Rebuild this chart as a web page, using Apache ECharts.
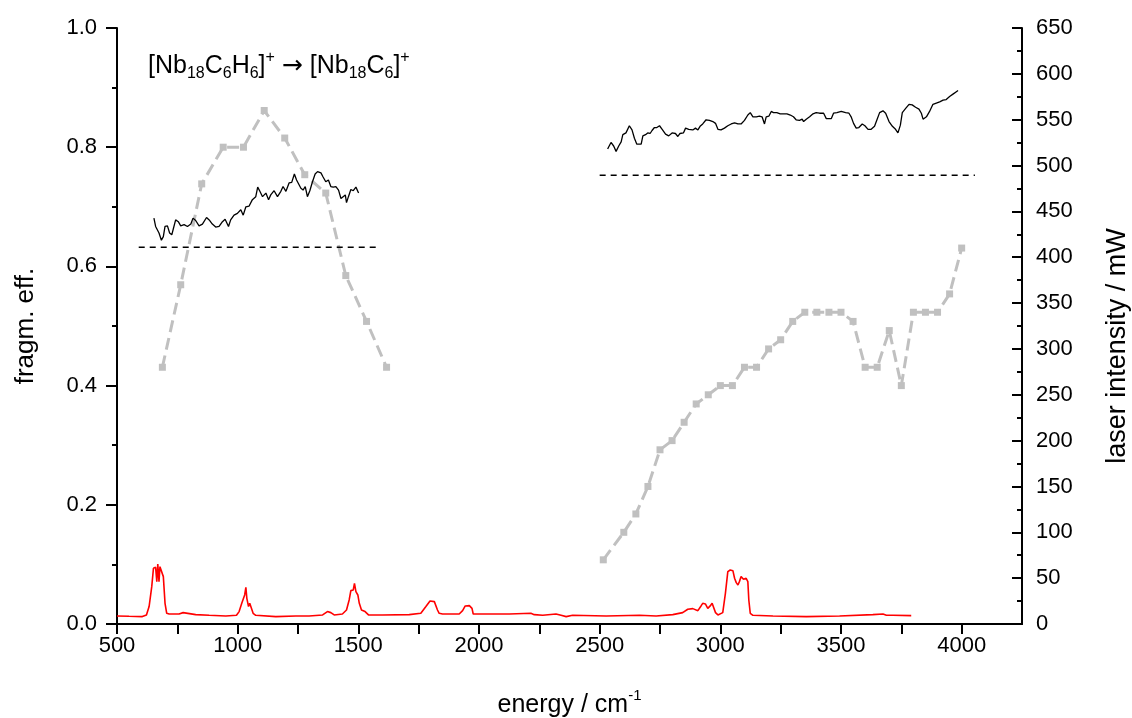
<!DOCTYPE html>
<html>
<head>
<meta charset="utf-8">
<script src="https://cdn.jsdelivr.net/npm/echarts@6/dist/echarts.min.js"></script>
<style>
  html, body { margin: 0; padding: 0; background: #fff; }
  #chart { width: 1132px; height: 718px; }
</style>
</head>
<body>
<div id="chart"></div>
<script>
// tick positions
const xMajorTicks = [500, 1000, 1500, 2000, 2500, 3000, 3500, 4000]
const xMinorTicks = [750, 1250, 1750, 2250, 2750, 3250, 3750]
const xTopTicks = [750, 1000, 1250, 1500, 1750, 2000, 2250, 2500, 2750, 3000, 3250, 3500, 3750, 4000]

// IR spectrum (red, left axis)
const irSpectrum = [
  [500, 0.0135], [550, 0.0129], [605, 0.0124], [622, 0.0152], [633, 0.0292], [644, 0.0627],
  [651, 0.0934], [660, 0.0951], [665, 0.0711], [669, 0.1007], [674, 0.0711], [678, 0.0962],
  [685, 0.0962], [692, 0.0795], [699, 0.0347], [706, 0.018], [716, 0.0168], [757, 0.0168],
  [774, 0.0191], [778, 0.0224], [782, 0.018], [826, 0.0157], [882, 0.0146], [951, 0.0135],
  [995, 0.0146], [1006, 0.0208], [1017, 0.0347], [1024, 0.0358], [1029, 0.0487], [1034, 0.0616],
  [1038, 0.0431], [1045, 0.0292], [1050, 0.0347], [1057, 0.0263], [1064, 0.018], [1075, 0.0146],
  [1158, 0.0124], [1241, 0.0135], [1296, 0.0135], [1352, 0.0152], [1372, 0.0208], [1386, 0.0191],
  [1400, 0.0152], [1434, 0.0168], [1451, 0.0235], [1462, 0.0403], [1469, 0.056], [1479, 0.0571],
  [1484, 0.0683], [1490, 0.0543], [1498, 0.0487], [1504, 0.0347], [1513, 0.0235], [1528, 0.0208],
  [1542, 0.0152], [1600, 0.0152], [1711, 0.0157], [1759, 0.018], [1780, 0.0292], [1797, 0.0386],
  [1815, 0.0375], [1828, 0.0235], [1835, 0.018], [1849, 0.0168], [1918, 0.0168], [1932, 0.0224],
  [1943, 0.0303], [1960, 0.0308], [1971, 0.0263], [1976, 0.0168], [2001, 0.0168], [2126, 0.0168],
  [2215, 0.018], [2229, 0.0157], [2264, 0.0146], [2319, 0.0168], [2340, 0.0146], [2361, 0.0124],
  [2388, 0.0146], [2527, 0.0135], [2665, 0.0146], [2734, 0.0135], [2803, 0.0157], [2844, 0.0191],
  [2865, 0.0247], [2886, 0.0258], [2907, 0.0224], [2920, 0.0303], [2927, 0.0347], [2938, 0.0336],
  [2948, 0.0263], [2958, 0.0303], [2966, 0.0347], [2972, 0.0319], [2980, 0.0191], [2990, 0.0152],
  [3010, 0.0191], [3021, 0.0515], [3031, 0.0878], [3041, 0.0906], [3052, 0.0895], [3059, 0.0767],
  [3066, 0.0694], [3073, 0.0655], [3079, 0.0711], [3086, 0.0795], [3096, 0.075], [3107, 0.0767],
  [3114, 0.0711], [3118, 0.0403], [3124, 0.018], [3135, 0.0146], [3218, 0.0135], [3356, 0.0124],
  [3494, 0.0135], [3632, 0.0157], [3674, 0.0168], [3688, 0.0146], [3715, 0.0146], [3791, 0.0141]
]

// fragmentation efficiency traces (black, left axis)
const fragLow = [
  [653, 0.681], [660, 0.667], [674, 0.656], [684, 0.644], [692, 0.65], [699, 0.667], [709, 0.668],
  [718, 0.656], [727, 0.653], [734, 0.664], [743, 0.678], [754, 0.675], [764, 0.668], [778, 0.67],
  [792, 0.667], [806, 0.671], [815, 0.681], [826, 0.677], [840, 0.668], [854, 0.671], [871, 0.682],
  [882, 0.678], [895, 0.671], [909, 0.666], [923, 0.667], [937, 0.675], [948, 0.679], [962, 0.667],
  [971, 0.678], [985, 0.686], [999, 0.689], [1013, 0.695], [1023, 0.686], [1034, 0.7], [1047, 0.701],
  [1061, 0.712], [1075, 0.717], [1083, 0.733], [1092, 0.726], [1103, 0.717], [1117, 0.723],
  [1128, 0.712], [1137, 0.72], [1151, 0.727], [1165, 0.717], [1179, 0.726], [1188, 0.734],
  [1200, 0.726], [1213, 0.74], [1224, 0.741], [1235, 0.755], [1244, 0.745], [1252, 0.742],
  [1262, 0.731], [1271, 0.728], [1280, 0.734], [1289, 0.717], [1299, 0.727], [1310, 0.742],
  [1321, 0.755], [1331, 0.759], [1345, 0.757], [1354, 0.75], [1365, 0.742], [1376, 0.745],
  [1386, 0.734], [1396, 0.733], [1407, 0.734], [1418, 0.728], [1428, 0.714], [1437, 0.717],
  [1446, 0.72], [1451, 0.707], [1459, 0.717], [1469, 0.729], [1479, 0.727], [1490, 0.733], [1501, 0.723]
]
const fragHigh = [
  [2533, 0.797], [2547, 0.808], [2558, 0.802], [2568, 0.793], [2579, 0.802], [2589, 0.809],
  [2596, 0.821], [2609, 0.824], [2623, 0.836], [2634, 0.829], [2644, 0.815], [2654, 0.805],
  [2662, 0.808], [2672, 0.805], [2679, 0.819], [2690, 0.821], [2699, 0.824], [2709, 0.823],
  [2717, 0.828], [2727, 0.833], [2737, 0.833], [2748, 0.836], [2759, 0.83], [2773, 0.822],
  [2786, 0.819], [2800, 0.824], [2814, 0.823], [2824, 0.818], [2833, 0.823], [2847, 0.824],
  [2856, 0.832], [2869, 0.83], [2886, 0.829], [2897, 0.832], [2907, 0.829], [2916, 0.835],
  [2927, 0.839], [2941, 0.846], [2955, 0.845], [2969, 0.843], [2980, 0.84], [2990, 0.83],
  [3003, 0.829], [3017, 0.832], [3031, 0.836], [3045, 0.839], [3059, 0.841], [3073, 0.839],
  [3086, 0.839], [3100, 0.845], [3114, 0.854], [3124, 0.858], [3135, 0.851], [3149, 0.851],
  [3162, 0.852], [3173, 0.851], [3183, 0.839], [3190, 0.851], [3201, 0.852], [3211, 0.86],
  [3220, 0.858], [3234, 0.858], [3248, 0.856], [3262, 0.856], [3276, 0.856], [3290, 0.854],
  [3303, 0.851], [3314, 0.846], [3328, 0.845], [3339, 0.847], [3345, 0.843], [3356, 0.847],
  [3370, 0.851], [3384, 0.856], [3397, 0.858], [3411, 0.857], [3428, 0.857], [3439, 0.848],
  [3460, 0.848], [3469, 0.857], [3483, 0.858], [3501, 0.86], [3519, 0.858], [3533, 0.857],
  [3542, 0.851], [3552, 0.84], [3563, 0.832], [3574, 0.833], [3588, 0.839], [3599, 0.836],
  [3612, 0.83], [3625, 0.83], [3639, 0.835], [3649, 0.846], [3660, 0.858], [3674, 0.861],
  [3685, 0.857], [3699, 0.843], [3713, 0.835], [3726, 0.83], [3736, 0.824], [3746, 0.837],
  [3754, 0.858], [3768, 0.865], [3782, 0.872], [3795, 0.871], [3809, 0.867], [3823, 0.864],
  [3833, 0.857], [3840, 0.847], [3854, 0.851], [3867, 0.86], [3881, 0.872], [3895, 0.874],
  [3909, 0.876], [3923, 0.879], [3936, 0.88], [3950, 0.885], [3964, 0.889], [3978, 0.893], [3985, 0.895]
]

// baselines (dashed, left axis)
const baseLow = [[590, 0.632], [1580, 0.632]]
const baseHigh = [[2500, 0.753], [4055, 0.753]]

// laser intensity in mW (grey, right axis)
const laserLow = [
  [688, 280], [764, 370], [851, 480], [940, 520], [1024, 520], [1110, 560],
  [1195, 530], [1278, 490], [1365, 470], [1448, 380], [1534, 330], [1617, 280]
]
const laserHigh = [
  [2515, 70], [2600, 100], [2650, 120], [2700, 150], [2750, 190], [2800, 200], [2850, 220],
  [2900, 240], [2950, 250], [3000, 260], [3050, 260], [3100, 280], [3150, 280], [3200, 300],
  [3250, 310], [3300, 330], [3350, 340], [3400, 340], [3450, 340], [3500, 340], [3550, 330],
  [3600, 280], [3650, 280], [3700, 320], [3750, 260], [3800, 340], [3850, 340], [3900, 340],
  [3950, 360], [4000, 410]
]

const FONT = 'Liberation Sans, Arial, sans-serif'
const gridBox = { left: 117, right: 110, top: 28, bottom: 94, outerBoundsMode: 'none' }

const chart = echarts.init(document.getElementById('chart'))

const laserStyle = {
  type: 'line',
  xAxisIndex: 0,
  yAxisIndex: 1,
  symbol: 'rect',
  symbolSize: 7,
  itemStyle: { color: '#c0c0c0' },
  lineStyle: { color: '#c0c0c0', width: 3, type: [12, 6] },
  z: 1
}

const blackTrace = {
  type: 'line',
  xAxisIndex: 0,
  yAxisIndex: 0,
  showSymbol: false,
  lineStyle: { color: '#000', width: 1.3 },
  z: 3
}

const dashed = {
  type: 'line',
  xAxisIndex: 0,
  yAxisIndex: 0,
  showSymbol: false,
  lineStyle: { color: '#000', width: 1.5, type: [6, 5] },
  z: 3
}

chart.setOption({
  animation: false,
  backgroundColor: '#fff',
  textStyle: { fontFamily: FONT },
  grid: [gridBox, gridBox],
  xAxis: [
    {
      gridIndex: 0,
      type: 'value',
      position: 'bottom',
      min: 500,
      max: 4250,
      axisLine: { lineStyle: { color: '#000', width: 2 } },
      axisTick: { customValues: xMajorTicks, length: 10, lineStyle: { color: '#000', width: 2 } },
      axisLabel: { customValues: xMajorTicks, color: '#000', fontSize: 22, margin: 11, formatter: v => String(v) },
      splitLine: { show: false },
      name: '{a|energy / cm}{s|-1}',
      nameLocation: 'middle',
      nameGap: 64,
      nameTextStyle: {
        rich: {
          a: { fontSize: 25, color: '#000', lineHeight: 30, verticalAlign: 'bottom' },
          s: { fontSize: 15, color: '#000', lineHeight: 20, verticalAlign: 'top' }
        }
      }
    },
    {
      gridIndex: 0,
      type: 'value',
      position: 'top',
      min: 500,
      max: 4250,
      axisLine: { lineStyle: { color: '#000', width: 2 } },
      axisTick: { inside: true, customValues: xTopTicks, length: 10, lineStyle: { color: '#000', width: 2 } },
      axisLabel: { show: false },
      splitLine: { show: false }
    },
    {
      gridIndex: 1,
      type: 'value',
      position: 'bottom',
      min: 500,
      max: 4250,
      axisLine: { show: false },
      axisTick: { customValues: xMinorTicks, length: 5, lineStyle: { color: '#000', width: 2 } },
      axisLabel: { show: false },
      splitLine: { show: false }
    }
  ],
  yAxis: [
    {
      gridIndex: 0,
      type: 'value',
      position: 'left',
      min: 0,
      max: 1,
      interval: 0.2,
      axisLine: { show: true, lineStyle: { color: '#000', width: 2 } },
      axisTick: { show: true, length: 11, lineStyle: { color: '#000', width: 2 } },
      minorTick: { show: true, splitNumber: 2, length: 5, lineStyle: { color: '#000', width: 2 } },
      axisLabel: { color: '#000', fontSize: 22, margin: 20, formatter: v => v.toFixed(1) },
      splitLine: { show: false },
      name: 'fragm. eff.',
      nameLocation: 'middle',
      nameGap: 78,
      nameTextStyle: { color: '#000', fontSize: 26 }
    },
    {
      gridIndex: 0,
      type: 'value',
      position: 'right',
      min: 0,
      max: 650,
      interval: 50,
      axisLine: { show: true, lineStyle: { color: '#000', width: 2 } },
      axisTick: { show: true, inside: true, length: 10, lineStyle: { color: '#000', width: 2 } },
      minorTick: { show: true, splitNumber: 2, length: 5, lineStyle: { color: '#000', width: 2 } },
      axisLabel: { color: '#000', fontSize: 22, margin: 14 },
      splitLine: { show: false },
      name: 'laser intensity / mW',
      nameLocation: 'middle',
      nameRotate: 90,
      nameGap: 82,
      nameTextStyle: { color: '#000', fontSize: 27, padding: [0, 40, 0, 0] }
    },
    {
      gridIndex: 1,
      type: 'value',
      min: 0,
      max: 1,
      show: false
    }
  ],
  graphic: [
    {
      type: 'text',
      left: 148,
      top: 50,
      style: {
        text: '{m|[Nb}{b|18}{m|C}{b|6}{m|H}{b|6}{m|]}{p|+}{m| }{ar|\u2192}{m| [Nb}{b|18}{m|C}{b|6}{m|]}{p|+}',
        rich: {
          m: { fontSize: 25, fontFamily: FONT, fill: '#000', lineHeight: 32 },
          ar: { fontSize: 25, fontFamily: 'DejaVu Sans', fill: '#000', lineHeight: 32 },
          b: { fontSize: 16, fontFamily: FONT, fill: '#000', lineHeight: 16, verticalAlign: 'bottom' },
          p: { fontSize: 16, fontFamily: FONT, fill: '#000', lineHeight: 12, verticalAlign: 'top' }
        }
      }
    }
  ],
  series: [
    Object.assign({}, laserStyle, { name: 'laser low', data: laserLow }),
    Object.assign({}, laserStyle, { name: 'laser high', data: laserHigh }),
    {
      name: 'IR',
      type: 'line',
      xAxisIndex: 0,
      yAxisIndex: 0,
      showSymbol: false,
      lineStyle: { color: '#ff0000', width: 1.6 },
      data: irSpectrum,
      z: 2
    },
    Object.assign({}, blackTrace, { name: 'frag low', data: fragLow }),
    Object.assign({}, blackTrace, { name: 'frag high', data: fragHigh }),
    Object.assign({}, dashed, { name: 'base low', data: baseLow }),
    Object.assign({}, dashed, { name: 'base high', data: baseHigh })
  ]
})
</script>
</body>
</html>
